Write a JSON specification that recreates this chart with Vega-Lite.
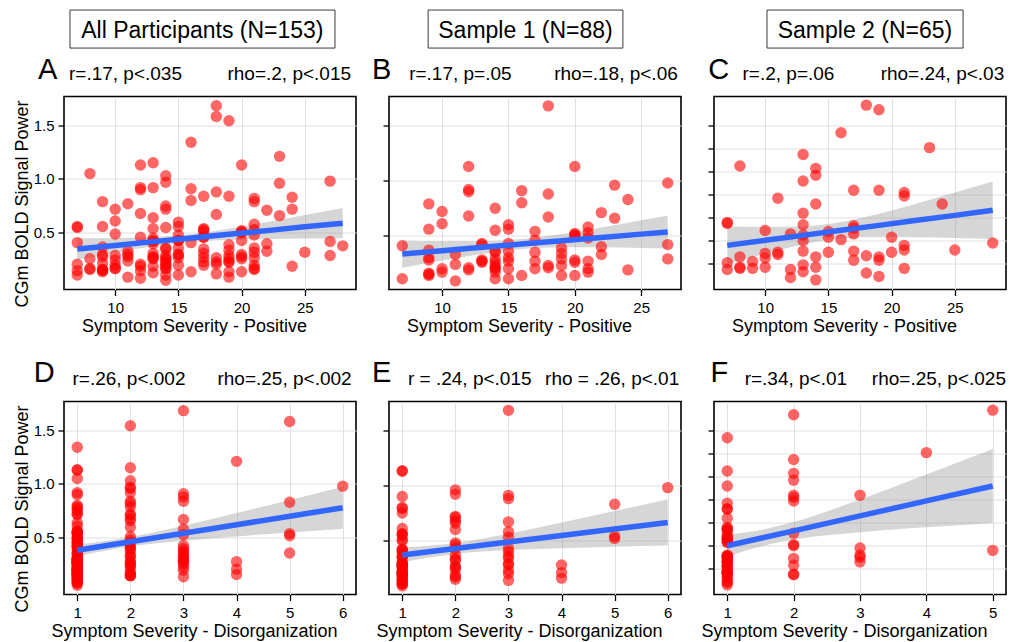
{
"$schema": "https://vega.github.io/schema/vega-lite/v6.json",
"background": "white",
"padding": {"left": 12, "top": 8.5, "right": 0, "bottom": 0},
"config": {
  "font": "Liberation Sans",
  "view": {"stroke": "black", "strokeWidth": 1.6},
  "axis": {"domain": false, "grid": true, "gridColor": "#e0e0e0", "gridWidth": 1, "tickColor": "black", "tickWidth": 1.3, "tickSize": 6, "labelColor": "black", "labelFontSize": 15, "titleColor": "black", "titleFontSize": 18, "titleFontWeight": "normal"},
  "axisX": {"labelPadding": 5, "titlePadding": 1.5, "titleX": 130},
  "axisY": {"labelPadding": 4, "titlePadding": 2, "titleY": 107}
},
"datasets": {
"labels": [
  {"panel": "A", "letter": "A", "r": "r=.17, p<.035", "rho": "rho=.2, p<.015", "header": "All Participants (N=153)"},
  {"panel": "B", "letter": "B", "r": "r=.17, p=.05", "rho": "rho=.18, p<.06", "header": "Sample 1 (N=88)"},
  {"panel": "C", "letter": "C", "r": "r=.2, p=.06", "rho": "rho=.24, p<.03", "header": "Sample 2 (N=65)"},
  {"panel": "D", "letter": "D", "r": "r=.26, p<.002", "rho": "rho=.25, p<.002"},
  {"panel": "E", "letter": "E", "r": "r = .24, p<.015", "rho": "rho = .26, p<.01"},
  {"panel": "F", "letter": "F", "r": "r=.34, p<.01", "rho": "rho=.25, p<.025"}
],
"bands": [
  {"panel":"A","x":7,"lo":0.25,"fit":0.35,"hi":0.45},{"panel":"A","x":10,"lo":0.315,"fit":0.384,"hi":0.453},{"panel":"A","x":13,"lo":0.375,"fit":0.419,"hi":0.463},{"panel":"A","x":16,"lo":0.418,"fit":0.453,"hi":0.488},{"panel":"A","x":19,"lo":0.435,"fit":0.487,"hi":0.539},{"panel":"A","x":22,"lo":0.442,"fit":0.521,"hi":0.6},{"panel":"A","x":25,"lo":0.447,"fit":0.556,"hi":0.665},{"panel":"A","x":28,"lo":0.45,"fit":0.59,"hi":0.73},
  {"panel":"B","x":7,"lo":0.21,"fit":0.335,"hi":0.46},{"panel":"B","x":10,"lo":0.275,"fit":0.365,"hi":0.455},{"panel":"B","x":13,"lo":0.335,"fit":0.395,"hi":0.455},{"panel":"B","x":16,"lo":0.38,"fit":0.425,"hi":0.47},{"panel":"B","x":19,"lo":0.395,"fit":0.455,"hi":0.515},{"panel":"B","x":22,"lo":0.395,"fit":0.485,"hi":0.575},{"panel":"B","x":25,"lo":0.39,"fit":0.515,"hi":0.64},{"panel":"B","x":27,"lo":0.385,"fit":0.535,"hi":0.685},
  {"panel":"C","x":7,"lo":0.197,"fit":0.36,"hi":0.523},{"panel":"C","x":10,"lo":0.288,"fit":0.404,"hi":0.52},{"panel":"C","x":13,"lo":0.368,"fit":0.447,"hi":0.526},{"panel":"C","x":16,"lo":0.419,"fit":0.491,"hi":0.563},{"panel":"C","x":19,"lo":0.432,"fit":0.534,"hi":0.636},{"panel":"C","x":22,"lo":0.431,"fit":0.578,"hi":0.725},{"panel":"C","x":25,"lo":0.424,"fit":0.621,"hi":0.819},{"panel":"C","x":28,"lo":0.415,"fit":0.665,"hi":0.915},
  {"panel":"D","x":1,"lo":0.329,"fit":0.385,"hi":0.441},{"panel":"D","x":1.5,"lo":0.379,"fit":0.4245,"hi":0.47},{"panel":"D","x":2,"lo":0.42,"fit":0.464,"hi":0.508},{"panel":"D","x":3,"lo":0.474,"fit":0.543,"hi":0.612},{"panel":"D","x":4,"lo":0.514,"fit":0.622,"hi":0.731},{"panel":"D","x":5,"lo":0.55,"fit":0.701,"hi":0.852},{"panel":"D","x":6,"lo":0.585,"fit":0.78,"hi":0.975},
  {"panel":"E","x":1,"lo":0.303,"fit":0.37,"hi":0.437},{"panel":"E","x":1.5,"lo":0.346,"fit":0.3995,"hi":0.453},{"panel":"E","x":2,"lo":0.379,"fit":0.429,"hi":0.479},{"panel":"E","x":3,"lo":0.414,"fit":0.488,"hi":0.562},{"panel":"E","x":4,"lo":0.431,"fit":0.547,"hi":0.663},{"panel":"E","x":5,"lo":0.444,"fit":0.606,"hi":0.768},{"panel":"E","x":6,"lo":0.455,"fit":0.665,"hi":0.875},
  {"panel":"F","x":1,"lo":0.303,"fit":0.4,"hi":0.497},{"panel":"F","x":1.5,"lo":0.3925,"fit":0.465,"hi":0.5375},{"panel":"F","x":2,"lo":0.454,"fit":0.53,"hi":0.606},{"panel":"F","x":3,"lo":0.518,"fit":0.66,"hi":0.802},{"panel":"F","x":4,"lo":0.56,"fit":0.79,"hi":1.02},{"panel":"F","x":5,"lo":0.598,"fit":0.92,"hi":1.242}
],
"subjects": [
{"s":1,"pos":7,"dis":1,"p":0.41},{"s":1,"pos":7,"dis":1,"p":0.11},{"s":1,"pos":9,"dis":1,"p":0.79},{"s":1,"pos":9,"dis":1,"p":0.56},{"s":1,"pos":9,"dis":2,"p":0.37},{"s":1,"pos":9,"dis":1,"p":0.30},{"s":1,"pos":9,"dis":1,"p":0.28},{"s":1,"pos":9,"dis":4,"p":0.16},{"s":1,"pos":9,"dis":1,"p":0.14},{"s":1,"pos":9,"dis":2,"p":0.15},
{"s":1,"pos":10,"dis":2,"p":0.72},{"s":1,"pos":10,"dis":1,"p":0.61},{"s":1,"pos":10,"dis":1,"p":0.20},{"s":1,"pos":10,"dis":2,"p":0.17},{"s":1,"pos":11,"dis":2,"p":0.33},{"s":1,"pos":11,"dis":2,"p":0.24},{"s":1,"pos":11,"dis":1,"p":0.09},
{"s":1,"pos":12,"dis":1,"p":1.13},{"s":1,"pos":12,"dis":2,"p":0.92},{"s":1,"pos":12,"dis":1,"p":0.90},{"s":1,"pos":12,"dis":2,"p":0.68},{"s":1,"pos":12,"dis":4,"p":0.21},{"s":1,"pos":12,"dis":2,"p":0.19},
{"s":1,"pos":13,"dis":3,"p":0.43},{"s":1,"pos":13,"dis":1,"p":0.42},{"s":1,"pos":13,"dis":1,"p":0.27},{"s":1,"pos":13,"dis":2,"p":0.26},{"s":1,"pos":13,"dis":4,"p":0.28},
{"s":1,"pos":14,"dis":1,"p":0.75},{"s":1,"pos":14,"dis":1,"p":0.55},{"s":1,"pos":14,"dis":3,"p":0.36},{"s":1,"pos":14,"dis":1,"p":0.35},{"s":1,"pos":14,"dis":1,"p":0.29},{"s":1,"pos":14,"dis":1,"p":0.23},{"s":1,"pos":14,"dis":1,"p":0.20},{"s":1,"pos":14,"dis":1,"p":0.17},{"s":1,"pos":14,"dis":1,"p":0.11},{"s":1,"pos":14,"dis":1,"p":0.21},{"s":1,"pos":14,"dis":1,"p":0.26},
{"s":1,"pos":15,"dis":2,"p":0.60},{"s":1,"pos":15,"dis":1,"p":0.56},{"s":1,"pos":15,"dis":2,"p":0.43},{"s":1,"pos":15,"dis":1,"p":0.36},{"s":1,"pos":15,"dis":2,"p":0.27},{"s":1,"pos":15,"dis":3,"p":0.20},{"s":1,"pos":15,"dis":1,"p":0.11},{"s":1,"pos":15,"dis":1,"p":0.30},
{"s":1,"pos":16,"dis":3,"p":0.91},{"s":1,"pos":16,"dis":1,"p":0.80},{"s":1,"pos":16,"dis":3,"p":0.14},
{"s":1,"pos":17,"dis":5,"p":0.54},{"s":1,"pos":17,"dis":2,"p":0.46},{"s":1,"pos":17,"dis":1,"p":0.35},{"s":1,"pos":17,"dis":1,"p":0.27},{"s":1,"pos":17,"dis":1,"p":0.20},
{"s":1,"pos":18,"dis":3,"p":1.68},{"s":1,"pos":18,"dis":3,"p":0.88},{"s":1,"pos":18,"dis":3,"p":0.67},{"s":1,"pos":18,"dis":3,"p":0.23},{"s":1,"pos":18,"dis":1,"p":0.21},
{"s":1,"pos":19,"dis":1,"p":0.39},{"s":1,"pos":19,"dis":3,"p":0.34},{"s":1,"pos":19,"dis":1,"p":0.29},{"s":1,"pos":19,"dis":1,"p":0.23},{"s":1,"pos":19,"dis":1,"p":0.14},
{"s":1,"pos":20,"dis":1,"p":1.13},{"s":1,"pos":20,"dis":5,"p":0.52},{"s":1,"pos":20,"dis":1,"p":0.51},{"s":1,"pos":20,"dis":3,"p":0.28},{"s":1,"pos":20,"dis":1,"p":0.26},{"s":1,"pos":20,"dis":1,"p":0.14},{"s":1,"pos":20,"dis":1,"p":0.50},
{"s":1,"pos":21,"dis":3,"p":0.58},{"s":1,"pos":21,"dis":3,"p":0.53},{"s":1,"pos":21,"dis":2,"p":0.48},{"s":1,"pos":21,"dis":1,"p":0.27},{"s":1,"pos":21,"dis":1,"p":0.20},{"s":1,"pos":21,"dis":1,"p":0.17},
{"s":1,"pos":22,"dis":2,"p":0.71},{"s":1,"pos":22,"dis":3,"p":0.40},{"s":1,"pos":22,"dis":2,"p":0.33},{"s":1,"pos":23,"dis":2,"p":0.96},{"s":1,"pos":23,"dis":2,"p":0.66},{"s":1,"pos":24,"dis":5,"p":0.83},{"s":1,"pos":24,"dis":1,"p":0.19},
{"s":1,"pos":27,"dis":6,"p":0.98},{"s":1,"pos":27,"dis":1,"p":0.42},{"s":1,"pos":27,"dis":3,"p":0.29},
{"s":2,"pos":7,"dis":1,"p":0.56},{"s":2,"pos":7,"dis":1,"p":0.55},{"s":2,"pos":7,"dis":1,"p":0.21},{"s":2,"pos":7,"dis":2,"p":0.15},
{"s":2,"pos":8,"dis":1,"p":1.05},{"s":2,"pos":8,"dis":1,"p":0.26},{"s":2,"pos":8,"dis":1,"p":0.17},{"s":2,"pos":8,"dis":1,"p":0.16},
{"s":2,"pos":9,"dis":1,"p":0.22},{"s":2,"pos":9,"dis":1,"p":0.16},
{"s":2,"pos":10,"dis":1,"p":0.49},{"s":2,"pos":10,"dis":2,"p":0.29},{"s":2,"pos":10,"dis":1,"p":0.25},{"s":2,"pos":10,"dis":1,"p":0.17},
{"s":2,"pos":11,"dis":1,"p":0.77},{"s":2,"pos":11,"dis":1,"p":0.30},{"s":2,"pos":11,"dis":1,"p":0.28},
{"s":2,"pos":12,"dis":1,"p":0.46},{"s":2,"pos":12,"dis":2,"p":0.15},{"s":2,"pos":12,"dis":1,"p":0.08},
{"s":2,"pos":13,"dis":2,"p":1.15},{"s":2,"pos":13,"dis":1,"p":0.92},{"s":2,"pos":13,"dis":1,"p":0.64},{"s":2,"pos":13,"dis":1,"p":0.54},{"s":2,"pos":13,"dis":1,"p":0.45},{"s":2,"pos":13,"dis":2,"p":0.40},{"s":2,"pos":13,"dis":1,"p":0.31},{"s":2,"pos":13,"dis":1,"p":0.19},{"s":2,"pos":13,"dis":1,"p":0.13},
{"s":2,"pos":14,"dis":2,"p":1.03},{"s":2,"pos":14,"dis":2,"p":0.97},{"s":2,"pos":14,"dis":1,"p":0.72},{"s":2,"pos":14,"dis":1,"p":0.26},{"s":2,"pos":14,"dis":1,"p":0.17},{"s":2,"pos":14,"dis":1,"p":0.06},
{"s":2,"pos":15,"dis":1,"p":0.48},{"s":2,"pos":15,"dis":1,"p":0.43},{"s":2,"pos":15,"dis":1,"p":0.30},
{"s":2,"pos":16,"dis":1,"p":1.34},{"s":2,"pos":16,"dis":2,"p":0.41},
{"s":2,"pos":17,"dis":3,"p":0.84},{"s":2,"pos":17,"dis":1,"p":0.53},{"s":2,"pos":17,"dis":2,"p":0.51},{"s":2,"pos":17,"dis":1,"p":0.46},{"s":2,"pos":17,"dis":1,"p":0.31},{"s":2,"pos":17,"dis":2,"p":0.23},
{"s":2,"pos":18,"dis":5,"p":1.58},{"s":2,"pos":18,"dis":1,"p":0.27},{"s":2,"pos":18,"dis":1,"p":0.12},
{"s":2,"pos":19,"dis":2,"p":1.54},{"s":2,"pos":19,"dis":2,"p":0.84},{"s":2,"pos":19,"dis":3,"p":0.26},{"s":2,"pos":19,"dis":1,"p":0.23},{"s":2,"pos":19,"dis":1,"p":0.09},
{"s":2,"pos":20,"dis":1,"p":0.43},{"s":2,"pos":20,"dis":3,"p":0.30},
{"s":2,"pos":21,"dis":2,"p":0.82},{"s":2,"pos":21,"dis":2,"p":0.79},{"s":2,"pos":21,"dis":5,"p":0.36},{"s":2,"pos":21,"dis":3,"p":0.32},{"s":2,"pos":21,"dis":1,"p":0.16},
{"s":2,"pos":23,"dis":4,"p":1.21},{"s":2,"pos":24,"dis":1,"p":0.72},{"s":2,"pos":25,"dis":1,"p":0.32},{"s":2,"pos":28,"dis":3,"p":0.38}
]
},
"columns": 3,
"spacing": {"row": 112, "column": 33},
"bounds": "flush",
"concat": [
{
 "width": 292, "height": 193,
 "layer": [
  {"layer": [
   {"data": {"name": "bands"}, "transform": [{"filter": "datum.panel === 'A'"}],
    "mark": {"type": "area", "color": "#999999", "opacity": 0.4, "interpolate": "monotone"},
    "encoding": {
     "x": {"field": "x", "type": "quantitative", "scale": {"domain": [5.95, 29.05], "nice": false, "zero": false}, "axis": {"title": "Symptom Severity - Positive", "values": [10, 15, 20, 25]}},
     "y": {"field": "lo", "type": "quantitative", "scale": {"domain": [-0.025, 1.765], "nice": false, "zero": false}, "axis": {"title": "CGm BOLD Signal Power", "values": [0.5, 1, 1.5], "format": ".1f"}},
     "y2": {"field": "hi"}}},
   {"data": {"name": "subjects"},
    "mark": {"type": "circle", "color": "#ff0000", "opacity": 0.6, "size": 130},
    "encoding": {
     "x": {"field": "pos", "type": "quantitative", "scale": {"domain": [5.95, 29.05], "nice": false, "zero": false}, "axis": {"title": "Symptom Severity - Positive", "values": [10, 15, 20, 25]}},
     "y": {"field": "p", "type": "quantitative", "scale": {"domain": [-0.025, 1.765], "nice": false, "zero": false}, "axis": {"title": "CGm BOLD Signal Power", "values": [0.5, 1, 1.5], "format": ".1f"}}}},
   {"data": {"name": "bands"}, "transform": [{"filter": "datum.panel === 'A'"}],
    "mark": {"type": "line", "color": "#3366ff", "strokeWidth": 5.5},
    "encoding": {
     "x": {"field": "x", "type": "quantitative", "scale": {"domain": [5.95, 29.05], "nice": false, "zero": false}, "axis": {"title": "Symptom Severity - Positive", "values": [10, 15, 20, 25]}},
     "y": {"field": "fit", "type": "quantitative", "scale": {"domain": [-0.025, 1.765], "nice": false, "zero": false}, "axis": {"title": "CGm BOLD Signal Power", "values": [0.5, 1, 1.5], "format": ".1f"}}}}
  ]},
  {"data": {"name": "labels"}, "transform": [{"filter": "datum.panel === 'A'"}],
   "layer": [
    {"mark": {"type": "rect", "fill": "white", "stroke": "#3a3a3a", "strokeWidth": 1},
     "encoding": {"x": {"datum": 0.0205, "type": "quantitative", "scale": {"domain": [0, 1], "nice": false, "zero": false}, "axis": null}, "x2": {"datum": 0.928}, "y": {"datum": 1.251, "type": "quantitative", "scale": {"domain": [0, 1], "nice": false, "zero": false}, "axis": null}, "y2": {"datum": 1.448}}},
    {"mark": {"type": "text", "fontSize": 23, "align": "center", "baseline": "alphabetic"},
     "encoding": {"x": {"datum": 0.474, "type": "quantitative", "scale": {"domain": [0, 1], "nice": false, "zero": false}, "axis": null}, "y": {"datum": 1.305, "type": "quantitative", "scale": {"domain": [0, 1], "nice": false, "zero": false}, "axis": null}, "text": {"field": "header"}}},
    {"mark": {"type": "text", "fontSize": 29, "align": "left", "baseline": "alphabetic"},
     "encoding": {"x": {"datum": -0.089, "type": "quantitative", "scale": {"domain": [0, 1], "nice": false, "zero": false}, "axis": null}, "y": {"datum": 1.089, "type": "quantitative", "scale": {"domain": [0, 1], "nice": false, "zero": false}, "axis": null}, "text": {"field": "letter"}}},
    {"mark": {"type": "text", "fontSize": 19, "align": "left", "baseline": "alphabetic"},
     "encoding": {"x": {"datum": 0.017, "type": "quantitative", "scale": {"domain": [0, 1], "nice": false, "zero": false}, "axis": null}, "y": {"datum": 1.087, "type": "quantitative", "scale": {"domain": [0, 1], "nice": false, "zero": false}, "axis": null}, "text": {"field": "r"}}},
    {"mark": {"type": "text", "fontSize": 19, "align": "right", "baseline": "alphabetic"},
     "encoding": {"x": {"datum": 0.983, "type": "quantitative", "scale": {"domain": [0, 1], "nice": false, "zero": false}, "axis": null}, "y": {"datum": 1.087, "type": "quantitative", "scale": {"domain": [0, 1], "nice": false, "zero": false}, "axis": null}, "text": {"field": "rho"}}}
   ]}
 ],
 "resolve": {"scale": {"x": "independent", "y": "independent"}}
},
{
 "width": 292, "height": 193,
 "layer": [
  {"layer": [
   {"data": {"name": "bands"}, "transform": [{"filter": "datum.panel === 'B'"}],
    "mark": {"type": "area", "color": "#999999", "opacity": 0.4, "interpolate": "monotone"},
    "encoding": {
     "x": {"field": "x", "type": "quantitative", "scale": {"domain": [6, 28], "nice": false, "zero": false}, "axis": {"title": "Symptom Severity - Positive", "values": [10, 15, 20, 25]}},
     "y": {"field": "lo", "type": "quantitative", "scale": {"domain": [0.012, 1.765], "nice": false, "zero": false}, "axis": {"title": null, "values": [0.5, 1, 1.5], "labels": false}},
     "y2": {"field": "hi"}}},
   {"data": {"name": "subjects"}, "transform": [{"filter": "datum.s === 1"}],
    "mark": {"type": "circle", "color": "#ff0000", "opacity": 0.6, "size": 130},
    "encoding": {
     "x": {"field": "pos", "type": "quantitative", "scale": {"domain": [6, 28], "nice": false, "zero": false}, "axis": {"title": "Symptom Severity - Positive", "values": [10, 15, 20, 25]}},
     "y": {"field": "p", "type": "quantitative", "scale": {"domain": [0.012, 1.765], "nice": false, "zero": false}, "axis": {"title": null, "values": [0.5, 1, 1.5], "labels": false}}}},
   {"data": {"name": "bands"}, "transform": [{"filter": "datum.panel === 'B'"}],
    "mark": {"type": "line", "color": "#3366ff", "strokeWidth": 5.5},
    "encoding": {
     "x": {"field": "x", "type": "quantitative", "scale": {"domain": [6, 28], "nice": false, "zero": false}, "axis": {"title": "Symptom Severity - Positive", "values": [10, 15, 20, 25]}},
     "y": {"field": "fit", "type": "quantitative", "scale": {"domain": [0.012, 1.765], "nice": false, "zero": false}, "axis": {"title": null, "values": [0.5, 1, 1.5], "labels": false}}}}
  ]},
  {"data": {"name": "labels"}, "transform": [{"filter": "datum.panel === 'B'"}],
   "layer": [
    {"mark": {"type": "rect", "fill": "white", "stroke": "#3a3a3a", "strokeWidth": 1},
     "encoding": {"x": {"datum": 0.134, "type": "quantitative", "scale": {"domain": [0, 1], "nice": false, "zero": false}, "axis": null}, "x2": {"datum": 0.801}, "y": {"datum": 1.251, "type": "quantitative", "scale": {"domain": [0, 1], "nice": false, "zero": false}, "axis": null}, "y2": {"datum": 1.448}}},
    {"mark": {"type": "text", "fontSize": 23, "align": "center", "baseline": "alphabetic"},
     "encoding": {"x": {"datum": 0.4675, "type": "quantitative", "scale": {"domain": [0, 1], "nice": false, "zero": false}, "axis": null}, "y": {"datum": 1.305, "type": "quantitative", "scale": {"domain": [0, 1], "nice": false, "zero": false}, "axis": null}, "text": {"field": "header"}}},
    {"mark": {"type": "text", "fontSize": 29, "align": "left", "baseline": "alphabetic"},
     "encoding": {"x": {"datum": -0.058, "type": "quantitative", "scale": {"domain": [0, 1], "nice": false, "zero": false}, "axis": null}, "y": {"datum": 1.089, "type": "quantitative", "scale": {"domain": [0, 1], "nice": false, "zero": false}, "axis": null}, "text": {"field": "letter"}}},
    {"mark": {"type": "text", "fontSize": 19, "align": "left", "baseline": "alphabetic"},
     "encoding": {"x": {"datum": 0.069, "type": "quantitative", "scale": {"domain": [0, 1], "nice": false, "zero": false}, "axis": null}, "y": {"datum": 1.083, "type": "quantitative", "scale": {"domain": [0, 1], "nice": false, "zero": false}, "axis": null}, "text": {"field": "r"}}},
    {"mark": {"type": "text", "fontSize": 19, "align": "right", "baseline": "alphabetic"},
     "encoding": {"x": {"datum": 0.989, "type": "quantitative", "scale": {"domain": [0, 1], "nice": false, "zero": false}, "axis": null}, "y": {"datum": 1.083, "type": "quantitative", "scale": {"domain": [0, 1], "nice": false, "zero": false}, "axis": null}, "text": {"field": "rho"}}}
   ]}
 ],
 "resolve": {"scale": {"x": "independent", "y": "independent"}}
},
{
 "width": 292, "height": 193,
 "layer": [
  {"layer": [
   {"data": {"name": "bands"}, "transform": [{"filter": "datum.panel === 'C'"}],
    "mark": {"type": "area", "color": "#999999", "opacity": 0.4, "interpolate": "monotone"},
    "encoding": {
     "x": {"field": "x", "type": "quantitative", "scale": {"domain": [5.95, 29.05], "nice": false, "zero": false}, "axis": {"title": "Symptom Severity - Positive", "values": [10, 15, 20, 25]}},
     "y": {"field": "lo", "type": "quantitative", "scale": {"domain": [-0.024, 1.655], "nice": false, "zero": false}, "axis": {"title": null, "values": [0.2, 0.4, 0.6, 0.8, 1, 1.2, 1.4], "labels": false}},
     "y2": {"field": "hi"}}},
   {"data": {"name": "subjects"}, "transform": [{"filter": "datum.s === 2"}],
    "mark": {"type": "circle", "color": "#ff0000", "opacity": 0.6, "size": 130},
    "encoding": {
     "x": {"field": "pos", "type": "quantitative", "scale": {"domain": [5.95, 29.05], "nice": false, "zero": false}, "axis": {"title": "Symptom Severity - Positive", "values": [10, 15, 20, 25]}},
     "y": {"field": "p", "type": "quantitative", "scale": {"domain": [-0.024, 1.655], "nice": false, "zero": false}, "axis": {"title": null, "values": [0.2, 0.4, 0.6, 0.8, 1, 1.2, 1.4], "labels": false}}}},
   {"data": {"name": "bands"}, "transform": [{"filter": "datum.panel === 'C'"}],
    "mark": {"type": "line", "color": "#3366ff", "strokeWidth": 5.5},
    "encoding": {
     "x": {"field": "x", "type": "quantitative", "scale": {"domain": [5.95, 29.05], "nice": false, "zero": false}, "axis": {"title": "Symptom Severity - Positive", "values": [10, 15, 20, 25]}},
     "y": {"field": "fit", "type": "quantitative", "scale": {"domain": [-0.024, 1.655], "nice": false, "zero": false}, "axis": {"title": null, "values": [0.2, 0.4, 0.6, 0.8, 1, 1.2, 1.4], "labels": false}}}}
  ]},
  {"data": {"name": "labels"}, "transform": [{"filter": "datum.panel === 'C'"}],
   "layer": [
    {"mark": {"type": "rect", "fill": "white", "stroke": "#3a3a3a", "strokeWidth": 1},
     "encoding": {"x": {"datum": 0.1815, "type": "quantitative", "scale": {"domain": [0, 1], "nice": false, "zero": false}, "axis": null}, "x2": {"datum": 0.853}, "y": {"datum": 1.251, "type": "quantitative", "scale": {"domain": [0, 1], "nice": false, "zero": false}, "axis": null}, "y2": {"datum": 1.448}}},
    {"mark": {"type": "text", "fontSize": 23, "align": "center", "baseline": "alphabetic"},
     "encoding": {"x": {"datum": 0.517, "type": "quantitative", "scale": {"domain": [0, 1], "nice": false, "zero": false}, "axis": null}, "y": {"datum": 1.305, "type": "quantitative", "scale": {"domain": [0, 1], "nice": false, "zero": false}, "axis": null}, "text": {"field": "header"}}},
    {"mark": {"type": "text", "fontSize": 29, "align": "left", "baseline": "alphabetic"},
     "encoding": {"x": {"datum": -0.02, "type": "quantitative", "scale": {"domain": [0, 1], "nice": false, "zero": false}, "axis": null}, "y": {"datum": 1.089, "type": "quantitative", "scale": {"domain": [0, 1], "nice": false, "zero": false}, "axis": null}, "text": {"field": "letter"}}},
    {"mark": {"type": "text", "fontSize": 19, "align": "left", "baseline": "alphabetic"},
     "encoding": {"x": {"datum": 0.0976, "type": "quantitative", "scale": {"domain": [0, 1], "nice": false, "zero": false}, "axis": null}, "y": {"datum": 1.083, "type": "quantitative", "scale": {"domain": [0, 1], "nice": false, "zero": false}, "axis": null}, "text": {"field": "r"}}},
    {"mark": {"type": "text", "fontSize": 19, "align": "right", "baseline": "alphabetic"},
     "encoding": {"x": {"datum": 0.994, "type": "quantitative", "scale": {"domain": [0, 1], "nice": false, "zero": false}, "axis": null}, "y": {"datum": 1.083, "type": "quantitative", "scale": {"domain": [0, 1], "nice": false, "zero": false}, "axis": null}, "text": {"field": "rho"}}}
   ]}
 ],
 "resolve": {"scale": {"x": "independent", "y": "independent"}}
},
{
 "width": 292, "height": 193,
 "layer": [
  {"layer": [
   {"data": {"name": "bands"}, "transform": [{"filter": "datum.panel === 'D'"}],
    "mark": {"type": "area", "color": "#999999", "opacity": 0.4, "interpolate": "monotone"},
    "encoding": {
     "x": {"field": "x", "type": "quantitative", "scale": {"domain": [0.75, 6.25], "nice": false, "zero": false}, "axis": {"title": "Symptom Severity - Disorganization", "values": [1, 2, 3, 4, 5, 6]}},
     "y": {"field": "lo", "type": "quantitative", "scale": {"domain": [-0.025, 1.765], "nice": false, "zero": false}, "axis": {"title": "CGm BOLD Signal Power", "values": [0.5, 1, 1.5], "format": ".1f"}},
     "y2": {"field": "hi"}}},
   {"data": {"name": "subjects"},
    "mark": {"type": "circle", "color": "#ff0000", "opacity": 0.6, "size": 130},
    "encoding": {
     "x": {"field": "dis", "type": "quantitative", "scale": {"domain": [0.75, 6.25], "nice": false, "zero": false}, "axis": {"title": "Symptom Severity - Disorganization", "values": [1, 2, 3, 4, 5, 6]}},
     "y": {"field": "p", "type": "quantitative", "scale": {"domain": [-0.025, 1.765], "nice": false, "zero": false}, "axis": {"title": "CGm BOLD Signal Power", "values": [0.5, 1, 1.5], "format": ".1f"}}}},
   {"data": {"name": "bands"}, "transform": [{"filter": "datum.panel === 'D'"}],
    "mark": {"type": "line", "color": "#3366ff", "strokeWidth": 5.5},
    "encoding": {
     "x": {"field": "x", "type": "quantitative", "scale": {"domain": [0.75, 6.25], "nice": false, "zero": false}, "axis": {"title": "Symptom Severity - Disorganization", "values": [1, 2, 3, 4, 5, 6]}},
     "y": {"field": "fit", "type": "quantitative", "scale": {"domain": [-0.025, 1.765], "nice": false, "zero": false}, "axis": {"title": "CGm BOLD Signal Power", "values": [0.5, 1, 1.5], "format": ".1f"}}}}
  ]},
  {"data": {"name": "labels"}, "transform": [{"filter": "datum.panel === 'D'"}],
   "layer": [
    {"mark": {"type": "text", "fontSize": 29, "align": "left", "baseline": "alphabetic"},
     "encoding": {"x": {"datum": -0.104, "type": "quantitative", "scale": {"domain": [0, 1], "nice": false, "zero": false}, "axis": null}, "y": {"datum": 1.1, "type": "quantitative", "scale": {"domain": [0, 1], "nice": false, "zero": false}, "axis": null}, "text": {"field": "letter"}}},
    {"mark": {"type": "text", "fontSize": 19, "align": "left", "baseline": "alphabetic"},
     "encoding": {"x": {"datum": 0.029, "type": "quantitative", "scale": {"domain": [0, 1], "nice": false, "zero": false}, "axis": null}, "y": {"datum": 1.084, "type": "quantitative", "scale": {"domain": [0, 1], "nice": false, "zero": false}, "axis": null}, "text": {"field": "r"}}},
    {"mark": {"type": "text", "fontSize": 19, "align": "right", "baseline": "alphabetic"},
     "encoding": {"x": {"datum": 0.985, "type": "quantitative", "scale": {"domain": [0, 1], "nice": false, "zero": false}, "axis": null}, "y": {"datum": 1.084, "type": "quantitative", "scale": {"domain": [0, 1], "nice": false, "zero": false}, "axis": null}, "text": {"field": "rho"}}}
   ]}
 ],
 "resolve": {"scale": {"x": "independent", "y": "independent"}}
},
{
 "width": 292, "height": 193,
 "layer": [
  {"layer": [
   {"data": {"name": "bands"}, "transform": [{"filter": "datum.panel === 'E'"}],
    "mark": {"type": "area", "color": "#999999", "opacity": 0.4, "interpolate": "monotone"},
    "encoding": {
     "x": {"field": "x", "type": "quantitative", "scale": {"domain": [0.75, 6.25], "nice": false, "zero": false}, "axis": {"title": "Symptom Severity - Disorganization", "values": [1, 2, 3, 4, 5, 6]}},
     "y": {"field": "lo", "type": "quantitative", "scale": {"domain": [0.012, 1.76], "nice": false, "zero": false}, "axis": {"title": null, "values": [0.5, 1, 1.5], "labels": false}},
     "y2": {"field": "hi"}}},
   {"data": {"name": "subjects"}, "transform": [{"filter": "datum.s === 1"}],
    "mark": {"type": "circle", "color": "#ff0000", "opacity": 0.6, "size": 130},
    "encoding": {
     "x": {"field": "dis", "type": "quantitative", "scale": {"domain": [0.75, 6.25], "nice": false, "zero": false}, "axis": {"title": "Symptom Severity - Disorganization", "values": [1, 2, 3, 4, 5, 6]}},
     "y": {"field": "p", "type": "quantitative", "scale": {"domain": [0.012, 1.76], "nice": false, "zero": false}, "axis": {"title": null, "values": [0.5, 1, 1.5], "labels": false}}}},
   {"data": {"name": "bands"}, "transform": [{"filter": "datum.panel === 'E'"}],
    "mark": {"type": "line", "color": "#3366ff", "strokeWidth": 5.5},
    "encoding": {
     "x": {"field": "x", "type": "quantitative", "scale": {"domain": [0.75, 6.25], "nice": false, "zero": false}, "axis": {"title": "Symptom Severity - Disorganization", "values": [1, 2, 3, 4, 5, 6]}},
     "y": {"field": "fit", "type": "quantitative", "scale": {"domain": [0.012, 1.76], "nice": false, "zero": false}, "axis": {"title": null, "values": [0.5, 1, 1.5], "labels": false}}}}
  ]},
  {"data": {"name": "labels"}, "transform": [{"filter": "datum.panel === 'E'"}],
   "layer": [
    {"mark": {"type": "text", "fontSize": 29, "align": "left", "baseline": "alphabetic"},
     "encoding": {"x": {"datum": -0.058, "type": "quantitative", "scale": {"domain": [0, 1], "nice": false, "zero": false}, "axis": null}, "y": {"datum": 1.1, "type": "quantitative", "scale": {"domain": [0, 1], "nice": false, "zero": false}, "axis": null}, "text": {"field": "letter"}}},
    {"mark": {"type": "text", "fontSize": 19, "align": "left", "baseline": "alphabetic"},
     "encoding": {"x": {"datum": 0.065, "type": "quantitative", "scale": {"domain": [0, 1], "nice": false, "zero": false}, "axis": null}, "y": {"datum": 1.084, "type": "quantitative", "scale": {"domain": [0, 1], "nice": false, "zero": false}, "axis": null}, "text": {"field": "r"}}},
    {"mark": {"type": "text", "fontSize": 19, "align": "right", "baseline": "alphabetic"},
     "encoding": {"x": {"datum": 0.994, "type": "quantitative", "scale": {"domain": [0, 1], "nice": false, "zero": false}, "axis": null}, "y": {"datum": 1.084, "type": "quantitative", "scale": {"domain": [0, 1], "nice": false, "zero": false}, "axis": null}, "text": {"field": "rho"}}}
   ]}
 ],
 "resolve": {"scale": {"x": "independent", "y": "independent"}}
},
{
 "width": 292, "height": 193,
 "layer": [
  {"layer": [
   {"data": {"name": "bands"}, "transform": [{"filter": "datum.panel === 'F'"}],
    "mark": {"type": "area", "color": "#999999", "opacity": 0.4, "interpolate": "monotone"},
    "encoding": {
     "x": {"field": "x", "type": "quantitative", "scale": {"domain": [0.8, 5.2], "nice": false, "zero": false}, "axis": {"title": "Symptom Severity - Disorganization", "values": [1, 2, 3, 4, 5]}},
     "y": {"field": "lo", "type": "quantitative", "scale": {"domain": [-0.024, 1.655], "nice": false, "zero": false}, "axis": {"title": null, "values": [0.2, 0.4, 0.6, 0.8, 1, 1.2, 1.4], "labels": false}},
     "y2": {"field": "hi"}}},
   {"data": {"name": "subjects"}, "transform": [{"filter": "datum.s === 2"}],
    "mark": {"type": "circle", "color": "#ff0000", "opacity": 0.6, "size": 130},
    "encoding": {
     "x": {"field": "dis", "type": "quantitative", "scale": {"domain": [0.8, 5.2], "nice": false, "zero": false}, "axis": {"title": "Symptom Severity - Disorganization", "values": [1, 2, 3, 4, 5]}},
     "y": {"field": "p", "type": "quantitative", "scale": {"domain": [-0.024, 1.655], "nice": false, "zero": false}, "axis": {"title": null, "values": [0.2, 0.4, 0.6, 0.8, 1, 1.2, 1.4], "labels": false}}}},
   {"data": {"name": "bands"}, "transform": [{"filter": "datum.panel === 'F'"}],
    "mark": {"type": "line", "color": "#3366ff", "strokeWidth": 5.5},
    "encoding": {
     "x": {"field": "x", "type": "quantitative", "scale": {"domain": [0.8, 5.2], "nice": false, "zero": false}, "axis": {"title": "Symptom Severity - Disorganization", "values": [1, 2, 3, 4, 5]}},
     "y": {"field": "fit", "type": "quantitative", "scale": {"domain": [-0.024, 1.655], "nice": false, "zero": false}, "axis": {"title": null, "values": [0.2, 0.4, 0.6, 0.8, 1, 1.2, 1.4], "labels": false}}}}
  ]},
  {"data": {"name": "labels"}, "transform": [{"filter": "datum.panel === 'F'"}],
   "layer": [
    {"mark": {"type": "text", "fontSize": 29, "align": "left", "baseline": "alphabetic"},
     "encoding": {"x": {"datum": -0.012, "type": "quantitative", "scale": {"domain": [0, 1], "nice": false, "zero": false}, "axis": null}, "y": {"datum": 1.1, "type": "quantitative", "scale": {"domain": [0, 1], "nice": false, "zero": false}, "axis": null}, "text": {"field": "letter"}}},
    {"mark": {"type": "text", "fontSize": 19, "align": "left", "baseline": "alphabetic"},
     "encoding": {"x": {"datum": 0.105, "type": "quantitative", "scale": {"domain": [0, 1], "nice": false, "zero": false}, "axis": null}, "y": {"datum": 1.084, "type": "quantitative", "scale": {"domain": [0, 1], "nice": false, "zero": false}, "axis": null}, "text": {"field": "r"}}},
    {"mark": {"type": "text", "fontSize": 19, "align": "right", "baseline": "alphabetic"},
     "encoding": {"x": {"datum": 1.0, "type": "quantitative", "scale": {"domain": [0, 1], "nice": false, "zero": false}, "axis": null}, "y": {"datum": 1.084, "type": "quantitative", "scale": {"domain": [0, 1], "nice": false, "zero": false}, "axis": null}, "text": {"field": "rho"}}}
   ]}
 ],
 "resolve": {"scale": {"x": "independent", "y": "independent"}}
}
]
}
